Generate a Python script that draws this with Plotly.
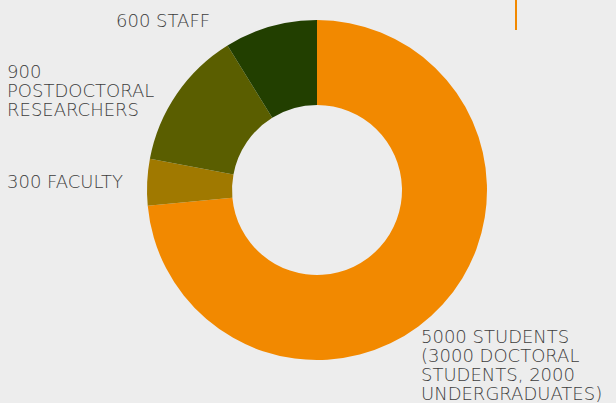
import plotly.graph_objects as go

labels = ["5000 STUDENTS (3000 DOCTORAL STUDENTS, 2000 UNDERGRADUATES)", "300 FACULTY", "900 POSTDOCTORAL RESEARCHERS", "600 STAFF"]
values = [5000, 300, 900, 600]
colors = ["#F28900", "#A07900", "#5A5E00", "#223F00"]
label_lines = [
    ["600 STAFF"],
    ["900", "POSTDOCTORAL", "RESEARCHERS"],
    ["300 FACULTY"],
    ["5000 STUDENTS", "(3000 DOCTORAL", "STUDENTS, 2000", "UNDERGRADUATES)"],
]

W, H = 616, 403
cx, cy, r = 317, 190, 170

fig = go.Figure(go.Pie(
    labels=labels, values=values, hole=0.5, sort=False, direction="clockwise",
    rotation=0, marker=dict(colors=colors, line=dict(width=0)),
    textinfo="none", hoverinfo="label", showlegend=False,
    domain=dict(x=[(cx - r) / W, (cx + r) / W], y=[(H - cy - r) / H, (H - cy + r) / H]),
))

font = dict(family="DejaVu Sans", size=18, color="#3e3e3e", weight=200)
anchors = [(115, 20, 19), (6, 71, 19), (6, 181, 19), (420, 336, 19)]
for lines, (x, y0, dy) in zip(label_lines, anchors):
    for i, t in enumerate(lines):
        fig.add_annotation(text=t, x=x / W, y=1 - (y0 + i * dy) / H, xref="paper", yref="paper",
                           xanchor="left", yanchor="middle", align="left", showarrow=False,
                           height=17, borderpad=0, font=font)

fig.add_shape(type="line", xref="paper", yref="paper", x0=516 / W, x1=516 / W,
              y0=1, y1=1 - 30 / H, line=dict(color="#F28900", width=2))

fig.update_layout(width=W, height=H, margin=dict(l=0, r=0, t=0, b=0),
                  paper_bgcolor="#EDEDED", plot_bgcolor="#EDEDED")
fig.write_html("out.html", config={"displayModeBar": False},
               post_script="document.body.style.margin='0';document.body.style.overflow='hidden';")
